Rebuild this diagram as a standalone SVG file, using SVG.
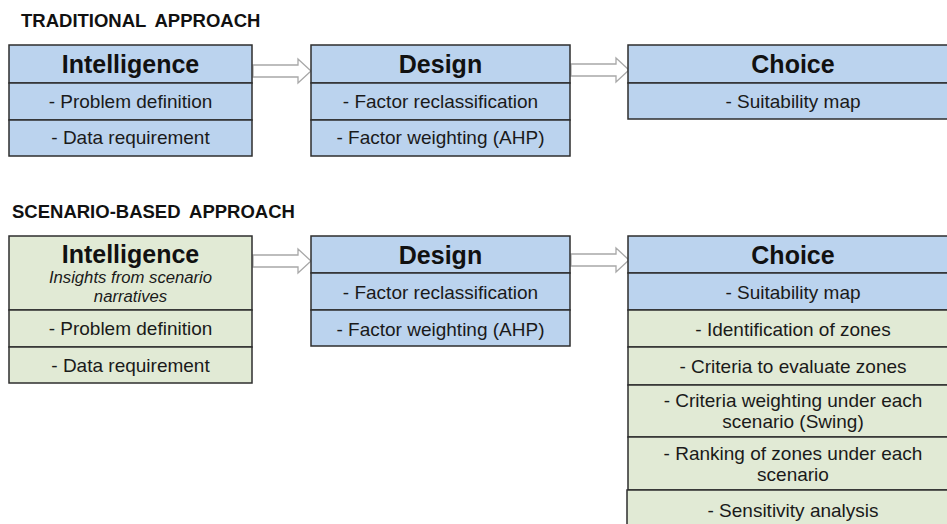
<svg xmlns="http://www.w3.org/2000/svg" width="947" height="524" viewBox="0 0 947 524">
<style>
.blue{fill:#BBD3EE;stroke:#2e2e2e;stroke-width:1.5}
.green{fill:#E1EAD5;stroke:#2e2e2e;stroke-width:1.5}
.title{font-family:"Liberation Sans",Arial,sans-serif;font-weight:bold;font-size:18.5px;fill:#111}
.hd{font-family:"Liberation Sans",Arial,sans-serif;font-weight:bold;font-size:25px;fill:#111;text-anchor:middle}
.tx{font-family:"Liberation Sans",Arial,sans-serif;font-size:19px;fill:#1a1a1a;text-anchor:middle}
.it{font-family:"Liberation Sans",Arial,sans-serif;font-style:italic;font-size:16.7px;fill:#1a1a1a;text-anchor:middle}
.arr{fill:#fff;stroke:#A8A8A8;stroke-width:1.3}
</style>
<defs>
<path id="blockArrow" d="M0,-6 H45 V-12 L58,0 L45,12 V6 H0 Z"/>
</defs>
<rect width="947" height="524" fill="#fff"/>
<text class="title" x="21" y="27" word-spacing="4">TRADITIONAL APPROACH</text>
<text class="title" x="12" y="218" word-spacing="4">SCENARIO-BASED APPROACH</text>
<g id="connectors">
<use href="#blockArrow" class="arr" transform="translate(253,71)"/>
<use href="#blockArrow" class="arr" transform="translate(571,70)"/>
<use href="#blockArrow" class="arr" transform="translate(253,261)"/>
<use href="#blockArrow" class="arr" transform="translate(571,260)"/>
</g>
<g id="trad-intelligence">
<rect class="blue" x="9" y="45" width="243" height="38"/>
<rect class="blue" x="9" y="83" width="243" height="37"/>
<rect class="blue" x="9" y="120" width="243" height="36"/>
<text class="hd" x="130.5" y="73">Intelligence</text>
<text class="tx" x="130.5" y="108">- Problem definition</text>
<text class="tx" x="130.5" y="144">- Data requirement</text>
</g>
<g id="trad-design">
<rect class="blue" x="311" y="45" width="259" height="38"/>
<rect class="blue" x="311" y="83" width="259" height="37"/>
<rect class="blue" x="311" y="120" width="259" height="36"/>
<text class="hd" x="440.5" y="73">Design</text>
<text class="tx" x="440.5" y="108">- Factor reclassification</text>
<text class="tx" x="440.5" y="144">- Factor weighting (AHP)</text>
</g>
<g id="trad-choice">
<rect class="blue" x="628" y="45" width="330" height="38"/>
<rect class="blue" x="628" y="83" width="330" height="36"/>
<text class="hd" x="793" y="73">Choice</text>
<text class="tx" x="793" y="108">- Suitability map</text>
</g>
<g id="scen-intelligence">
<rect class="green" x="9" y="236" width="243" height="74"/>
<rect class="green" x="9" y="310" width="243" height="37"/>
<rect class="green" x="9" y="347" width="243" height="36"/>
<text class="hd" x="130.5" y="263">Intelligence</text>
<text class="it" x="130.5" y="283">Insights from scenario</text>
<text class="it" x="130.5" y="302">narratives</text>
<text class="tx" x="130.5" y="335">- Problem definition</text>
<text class="tx" x="130.5" y="372">- Data requirement</text>
</g>
<g id="scen-design">
<rect class="blue" x="311" y="236" width="259" height="37"/>
<rect class="blue" x="311" y="273" width="259" height="37"/>
<rect class="blue" x="311" y="310" width="259" height="36"/>
<text class="hd" x="440.5" y="264">Design</text>
<text class="tx" x="440.5" y="299">- Factor reclassification</text>
<text class="tx" x="440.5" y="336">- Factor weighting (AHP)</text>
</g>
<g id="scen-choice">
<rect class="blue" x="628" y="236" width="330" height="37"/>
<rect class="blue" x="628" y="273" width="330" height="37"/>
<rect class="green" x="628" y="310" width="330" height="37"/>
<rect class="green" x="628" y="347" width="330" height="38"/>
<rect class="green" x="628" y="385" width="330" height="52"/>
<rect class="green" x="628" y="437" width="330" height="53"/>
<rect class="green" x="627" y="490" width="331" height="40"/>
<text class="hd" x="793" y="264">Choice</text>
<text class="tx" x="793" y="299">- Suitability map</text>
<text class="tx" x="793" y="336">- Identification of zones</text>
<text class="tx" x="793" y="373">- Criteria to evaluate zones</text>
<text class="tx" x="793" y="407">- Criteria weighting under each</text>
<text class="tx" x="793" y="428">scenario (Swing)</text>
<text class="tx" x="793" y="460">- Ranking of zones under each</text>
<text class="tx" x="793" y="481">scenario</text>
<text class="tx" x="793" y="517">- Sensitivity analysis</text>
</g>
</svg>
